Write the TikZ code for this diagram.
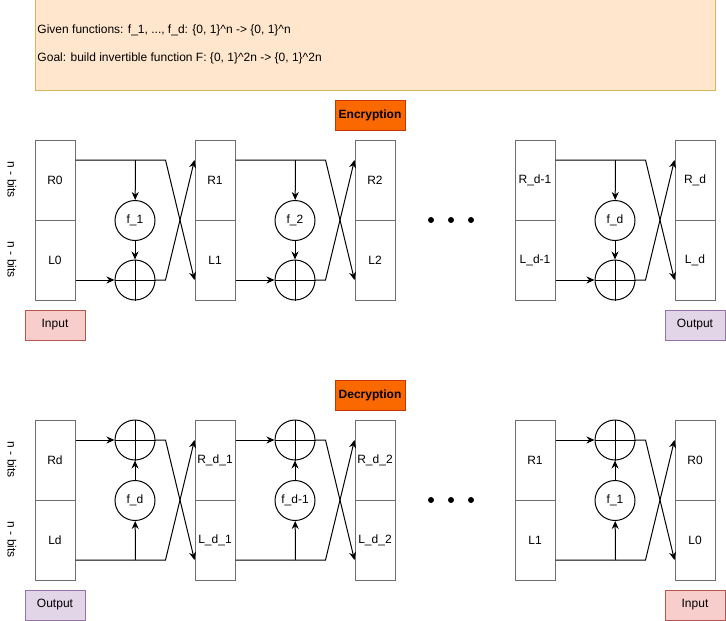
\documentclass[tikz,border=0pt]{standalone}
\usepackage{fontspec}
\setmainfont{Liberation Sans}
\usetikzlibrary{arrows.meta}
\definecolor{infofill}{HTML}{FFE6CC}
\definecolor{infodraw}{HTML}{D6B656}
\definecolor{phasefill}{HTML}{FA6800}
\definecolor{phasedraw}{HTML}{C73500}
\definecolor{infill}{HTML}{F8CECC}
\definecolor{indraw}{HTML}{B85450}
\definecolor{outfill}{HTML}{E1D5E7}
\definecolor{outdraw}{HTML}{9673A6}
\definecolor{blockgray}{HTML}{6E6E6E}
\tikzset{
  half/.style={draw=blockgray, minimum width=40pt, minimum height=80pt, inner sep=0pt},
  fcirc/.style={circle, draw, minimum size=40pt, inner sep=0pt},
  xorcirc/.style={circle, draw, minimum size=40pt, inner sep=0pt},
  arr/.style={-{Stealth[length=8pt,width=7pt]}},
  phase/.style={draw=phasedraw, fill=phasefill, minimum width=70pt, minimum height=30pt, font=\fontsize{12}{14}\selectfont\bfseries},
  inbox/.style={draw=indraw, fill=infill, minimum width=60pt, minimum height=30pt},
  outbox/.style={draw=outdraw, fill=outfill, minimum width=60pt, minimum height=30pt},
  bitlabel/.style={rotate=-90, inner sep=0pt},
}
\begin{document}
\begin{tikzpicture}[x=1pt,y=-1pt,line width=1pt,font=\fontsize{12}{14}\selectfont]
  \useasboundingbox (0,0) rectangle (726,621);

  % header
  \node[draw=infodraw, fill=infofill, minimum width=680pt, minimum height=92pt] (info) at (375,44) {};
  \node[anchor=west, inner sep=0pt] (given) at (37,30)
    {Given functions: f\_1, ..., f\_d: \{0, 1\}\textasciicircum n -> \{0, 1\}\textasciicircum n};
  \node[anchor=west, inner sep=0pt] (goal) at (37,58)
    {Goal: build invertible function F: \{0, 1\}\textasciicircum 2n -> \{0, 1\}\textasciicircum 2n};

  \node[phase] (enc) at (370,115) {Encryption};
  \node[phase] (dec) at (370,395) {Decryption};

  \foreach \y/\k in {180/1,260/2,460/3,540/4}
    \node[bitlabel] (bits\k) at (12,\y) {n - bits};

  % register blocks
  \foreach \n/\x/\r/\l in {1/55/R0/L0, 2/215/R1/L1, 3/375/R2/L2, 4/535/R\_d-1/L\_d-1, 5/695/R\_d/L\_d} {
    \node[half] (er\n) at (\x,180) {\r};
    \node[half] (el\n) at (\x,260) {\l};
  }
  \foreach \n/\x/\r/\l in {1/55/Rd/Ld, 2/215/R\_d\_1/L\_d\_1, 3/375/R\_d\_2/L\_d\_2, 4/535/R1/L1, 5/695/R0/L0} {
    \node[half] (dr\n) at (\x,460) {\r};
    \node[half] (dl\n) at (\x,540) {\l};
  }

  % encryption rounds
  \foreach \i/\j/\f in {1/2/f\_1, 2/3/f\_2, 4/5/f\_d} {
    \node[fcirc] (ef\i) at ([xshift=80pt]er\i.south) {\f};
    \node[xorcirc] (ex\i) at ([xshift=80pt,yshift=-20pt]el\i.center) {};
    \draw[arr] ([yshift=20pt]er\i.east) -- ++(60,0) coordinate (et\i) -- ++(30,0) -- ([yshift=-20pt]el\j.west);
    \draw[arr] (et\i) -- (ef\i);
    \draw[arr] (ef\i) -- (ex\i);
    \draw[arr] ([yshift=-20pt]el\i.east) -- (ex\i);
    \draw[arr] (ex\i.east) -- ++(10,0) -- ([yshift=20pt]er\j.west);
    \draw (ex\i.north) -- (ex\i.south) (ex\i.west) -- (ex\i.east);
  }

  % decryption rounds
  \foreach \i/\j/\f in {1/2/f\_d, 2/3/f\_d-1, 4/5/f\_1} {
    \node[fcirc] (df\i) at ([xshift=80pt]dr\i.south) {\f};
    \node[xorcirc] (dx\i) at ([xshift=80pt,yshift=20pt]dr\i.center) {};
    \draw[arr] ([yshift=20pt]dr\i.east) -- (dx\i);
    \draw[arr] (dx\i.east) -- ++(10,0) -- ([yshift=-20pt]dl\j.west);
    \draw[arr] ([yshift=-20pt]dl\i.east) -- ++(60,0) coordinate (dt\i) -- ++(30,0) -- ([yshift=20pt]dr\j.west);
    \draw[arr] (dt\i) -- (df\i);
    \draw[arr] (df\i) -- (dx\i);
    \draw (dx\i.north) -- (dx\i.south) (dx\i.west) -- (dx\i.east);
  }

  \foreach \y in {220,500}
    \foreach \x in {431,451,471}
      \fill (\x,\y) circle (3);

  \node[inbox] (encin) at (55,325) {Input};
  \node[outbox] (encout) at (695,325) {Output};
  \node[outbox] (decout) at (55,605) {Output};
  \node[inbox] (decin) at (695,605) {Input};
\end{tikzpicture}
\end{document}
